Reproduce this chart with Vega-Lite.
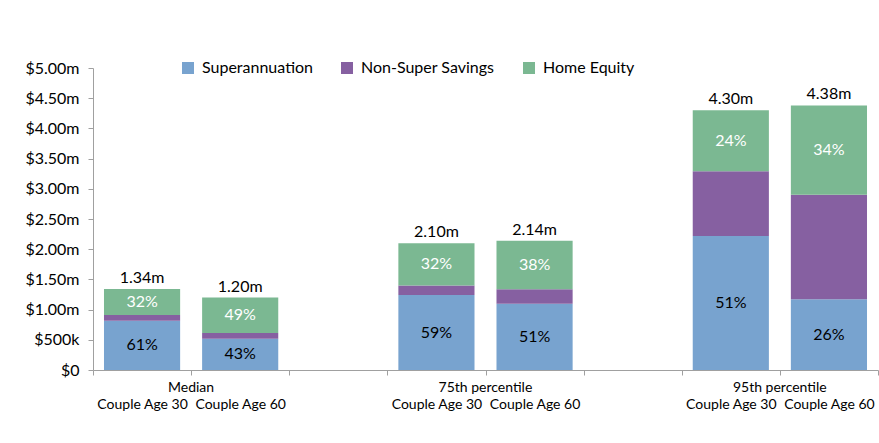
{
  "$schema": "https://vega.github.io/schema/vega-lite/v6.json",
  "width": 785,
  "height": 302,
  "autosize": {"type": "none"},
  "padding": {"left": 93, "top": 68, "right": 1, "bottom": 73},
  "background": "white",
  "config": {"font": "Lato", "view": {"stroke": null}},
  "data": {"values": [
    {"cat": "Median|Couple Age 30", "component": "Superannuation", "value": 0.817, "label": "61%", "total": ""},
    {"cat": "Median|Couple Age 30", "component": "Non-Super Savings", "value": 0.094, "label": "", "total": ""},
    {"cat": "Median|Couple Age 30", "component": "Home Equity", "value": 0.429, "label": "32%", "total": "1.34m"},
    {"cat": "Median|Couple Age 60", "component": "Superannuation", "value": 0.516, "label": "43%", "total": ""},
    {"cat": "Median|Couple Age 60", "component": "Non-Super Savings", "value": 0.096, "label": "", "total": ""},
    {"cat": "Median|Couple Age 60", "component": "Home Equity", "value": 0.588, "label": "49%", "total": "1.20m"},
    {"cat": "75th percentile|Couple Age 30", "component": "Superannuation", "value": 1.24, "label": "59%", "total": ""},
    {"cat": "75th percentile|Couple Age 30", "component": "Non-Super Savings", "value": 0.16, "label": "", "total": ""},
    {"cat": "75th percentile|Couple Age 30", "component": "Home Equity", "value": 0.70, "label": "32%", "total": "2.10m"},
    {"cat": "75th percentile|Couple Age 60", "component": "Superannuation", "value": 1.095, "label": "51%", "total": ""},
    {"cat": "75th percentile|Couple Age 60", "component": "Non-Super Savings", "value": 0.24, "label": "", "total": ""},
    {"cat": "75th percentile|Couple Age 60", "component": "Home Equity", "value": 0.805, "label": "38%", "total": "2.14m"},
    {"cat": "95th percentile|Couple Age 30", "component": "Superannuation", "value": 2.22, "label": "51%", "total": ""},
    {"cat": "95th percentile|Couple Age 30", "component": "Non-Super Savings", "value": 1.07, "label": "", "total": ""},
    {"cat": "95th percentile|Couple Age 30", "component": "Home Equity", "value": 1.01, "label": "24%", "total": "4.30m"},
    {"cat": "95th percentile|Couple Age 60", "component": "Superannuation", "value": 1.17, "label": "26%", "total": ""},
    {"cat": "95th percentile|Couple Age 60", "component": "Non-Super Savings", "value": 1.73, "label": "", "total": ""},
    {"cat": "95th percentile|Couple Age 60", "component": "Home Equity", "value": 1.48, "label": "34%", "total": "4.38m"}
  ]},
  "transform": [
    {"calculate": "indexof(['Superannuation','Non-Super Savings','Home Equity'], datum.component)", "as": "k"},
    {"stack": "value", "groupby": ["cat"], "sort": [{"field": "k", "order": "ascending"}], "as": ["v0", "v1"]},
    {"calculate": "(datum.v0 + datum.v1) / 2", "as": "mid"}
  ],
  "layer": [
    {
      "mark": {"type": "bar", "width": {"band": 0.776}},
      "encoding": {
        "x": {
          "field": "cat", "type": "nominal",
          "scale": {"domain": ["Median|Couple Age 30", "Median|Couple Age 60", "gap1", "75th percentile|Couple Age 30", "75th percentile|Couple Age 60", "gap2", "95th percentile|Couple Age 30", "95th percentile|Couple Age 60"], "paddingInner": 0, "paddingOuter": 0},
          "axis": {
            "title": null, "orient": "bottom", "tickBand": "extent",
            "labelExpr": "isString(datum.value) && indexof(datum.value, '|') >= 0 ? split(datum.value, '|')[1] : ''",
            "labelFontSize": 14, "labelColor": "black", "labelPadding": 22,
            "tickSize": 5, "tickColor": "#A0A0A0", "domainColor": "#A0A0A0",
            "labelAngle": 0, "labelOverlap": false, "labelBound": false, "grid": false
          }
        },
        "y": {
          "field": "v0", "type": "quantitative",
          "scale": {"domain": [0, 5], "nice": false},
          "axis": {
            "title": null, "values": [0, 0.5, 1, 1.5, 2, 2.5, 3, 3.5, 4, 4.5, 5], "format": "$.2f",
            "labelExpr": "datum.value == 0 ? '\u00240' : (datum.value == 0.5 ? '\u0024500k' : datum.label + 'm')",
            "labelFontSize": 16, "labelColor": "black", "labelPadding": 9,
            "tickSize": 5, "tickColor": "#A0A0A0", "domainColor": "#A0A0A0", "grid": false
          }
        },
        "y2": {"field": "v1"},
        "color": {
          "field": "component", "type": "nominal",
          "scale": {"domain": ["Superannuation", "Non-Super Savings", "Home Equity"], "range": ["#78A3CF", "#8660A1", "#7BB892"]},
          "legend": {
            "title": null, "orient": "none", "legendX": 87, "legendY": -8, "direction": "horizontal",
            "symbolType": "square", "symbolSize": 144, "symbolStrokeWidth": 0,
            "labelFontSize": 16, "labelColor": "black", "labelOffset": 6, "columnPadding": 26, "labelLimit": 0
          }
        }
      }
    },
    {
      "transform": [{"filter": "datum.label != ''"}],
      "mark": {"type": "text", "fontSize": 16, "baseline": "middle", "align": "center"},
      "encoding": {
        "x": {"field": "cat", "type": "nominal", "scale": {"domain": ["Median|Couple Age 30", "Median|Couple Age 60", "gap1", "75th percentile|Couple Age 30", "75th percentile|Couple Age 60", "gap2", "95th percentile|Couple Age 30", "95th percentile|Couple Age 60"], "paddingInner": 0, "paddingOuter": 0}, "axis": null},
        "y": {"field": "mid", "type": "quantitative", "scale": {"domain": [0, 5], "nice": false}, "axis": null},
        "text": {"field": "label"},
        "color": {"condition": {"test": "datum.component == 'Home Equity'", "value": "white"}, "value": "black"}
      }
    },
    {
      "transform": [{"filter": "datum.total != ''"}],
      "mark": {"type": "text", "fontSize": 16, "baseline": "bottom", "align": "center", "dy": -3, "color": "black"},
      "encoding": {
        "x": {
          "field": "cat", "type": "nominal",
          "scale": {"domain": ["Median|Couple Age 30", "Median|Couple Age 60", "gap1", "75th percentile|Couple Age 30", "75th percentile|Couple Age 60", "gap2", "95th percentile|Couple Age 30", "95th percentile|Couple Age 60"], "paddingInner": 0, "paddingOuter": 0},
          "axis": {
            "title": null, "orient": "bottom", "domain": false, "ticks": false,
            "labelExpr": "isString(datum.value) && indexof(datum.value, 'Couple Age 30') >= 0 ? split(datum.value, '|')[0] : ''",
            "labelOffset": 49, "labelFontSize": 14, "labelColor": "black", "labelPadding": 10,
            "labelAngle": 0, "labelOverlap": false, "labelBound": false, "grid": false
          }
        },
        "y": {"field": "v1", "type": "quantitative", "scale": {"domain": [0, 5], "nice": false}, "axis": null},
        "text": {"field": "total"}
      }
    }
  ],
  "resolve": {"axis": {"x": "independent", "y": "independent"}}
}
